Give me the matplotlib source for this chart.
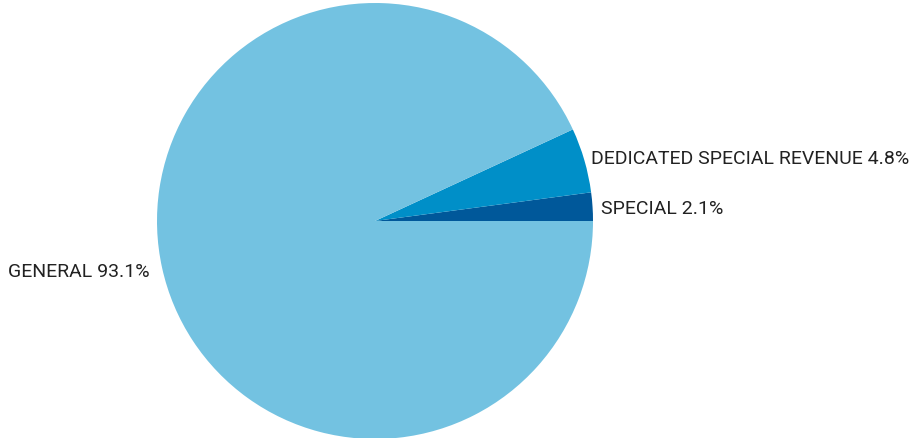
import matplotlib
matplotlib.use("Agg")
import matplotlib.pyplot as plt

categories = ["SPECIAL", "DEDICATED SPECIAL REVENUE", "GENERAL"]
values = [2.1, 4.8, 93.1]
colors = ["#00589A", "#008FC8", "#73C2E1"]

plt.rcParams['font.family'] = ['Roboto', 'DejaVu Sans']

fig = plt.figure(figsize=(9.21, 4.39), dpi=100)
W, H = 921, 439
cx, cy, r = 375, 222, 218
ax = fig.add_axes([(cx - r) / W, (H - cy - r) / H, 2 * r / W, 2 * r / H])
labels = [f"{c} {v}%" for c, v in zip(categories, values)]
wedges, texts = ax.pie(values, colors=colors, labels=labels, startangle=0,
                       counterclock=True, labeldistance=1.0,
                       wedgeprops=dict(linewidth=0),
                       textprops=dict(fontsize=14, color="#222222"))
dists = [1.04, 1.03, 1.06]
for t, d in zip(texts, dists):
    x, y = t.get_position()
    t.set_position((x * d, y * d - (0.01 if d == 1.04 else 0)))
ax.set_xlim(-1, 1)
ax.set_ylim(-1, 1)
ax.set_aspect('equal')
ax.axis('off')
fig.savefig("out.png", dpi=100)
